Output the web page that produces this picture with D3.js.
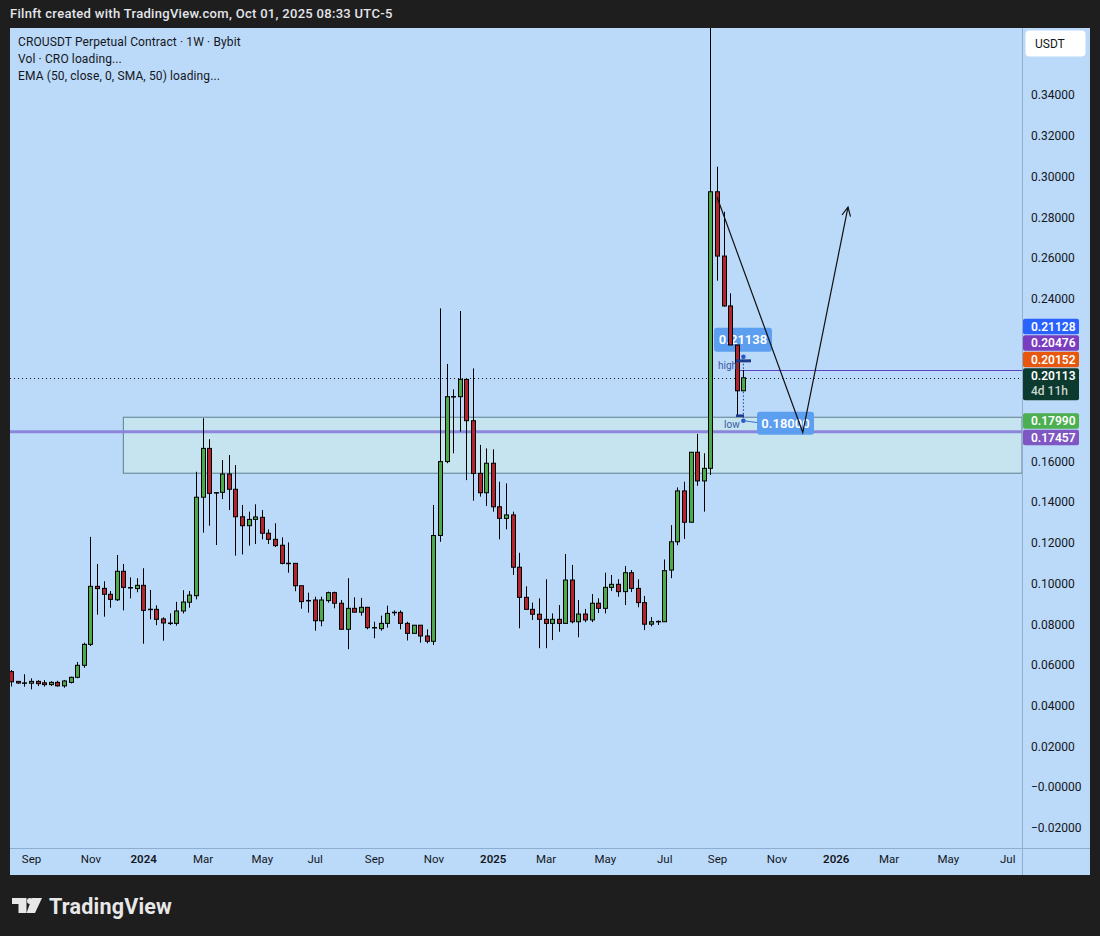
<!DOCTYPE html>
<html><head><meta charset="utf-8">
<script src="https://cdn.jsdelivr.net/npm/d3@7"></script>
<style>
html,body{margin:0;padding:0;background:#1e1e1e;}
svg{display:block;font-family:Roboto,"Open Sans",sans-serif;}
</style></head><body>
<svg id="c" width="1100" height="936"></svg>
<script>
// ---------- DATA ----------
const firstWeek = "2023-08-14"; // weekly bars, consecutive Mondays
const opens  = [.0567,.0519,.0511,.0510,.0519,.0512,.0503,.0514,.0497,.0514,.0539,.0598,.0701,.0986,.0976,.0947,.0920,.1060,.0980,.0975,.0991,.0873,.0873,.0826,.0805,.0804,.0865,.0908,.0940,.1424,.1664,.1443,.1448,.1538,.1463,.1328,.1284,.1315,.1325,.1247,.1217,.1188,.1099,.1099,.0989,.0916,.0919,.0817,.0916,.0955,.0903,.0775,.0878,.0859,.0883,.0783,.0778,.0804,.0858,.0858,.0804,.0755,.0795,.0742,.0716,.1236,.1599,.1918,.1918,.2003,.1800,.1541,.1446,.1591,.1377,.1320,.1337,.1080,.0932,.0873,.0849,.0824,.0804,.0824,.0804,.1017,.0812,.0850,.0821,.0903,.0878,.0981,.0996,.0960,.1053,.0976,.0906,.0800,.0812,.0812,.1066,.1205,.1455,.1301,.1645,.1504,.1566,.2925,.2609,.2364,.2172,.1947];
const highs  = [.0575,.0521,.0554,.0534,.0525,.0525,.0520,.0522,.0526,.0542,.0614,.0709,.1229,.1096,.1011,.0963,.1140,.1096,.1030,.1026,.1075,.0968,.0893,.0834,.0853,.0910,.0967,.0963,.1549,.1812,.1709,.1448,.1607,.1631,.1582,.1386,.1353,.1389,.1361,.1266,.1296,.1227,.1202,.1099,.0989,.0955,.0935,.0935,.0960,.0960,.0919,.1026,.0932,.0929,.0883,.0812,.0842,.0891,.0868,.0868,.0812,.0795,.0795,.0775,.1386,.2352,.2079,.1954,.2339,.2003,.2057,.1681,.1664,.1659,.1500,.1492,.1353,.1151,.0986,.0906,.0927,.1021,.0853,.0894,.1145,.1091,.0919,.0875,.0948,.0927,.1053,.1042,.1021,.1086,.1066,.1021,.0939,.0835,.0819,.1118,.1287,.1472,.1500,.1645,.1735,.1640,.3800,.3048,.2827,.2426,.2172,.2049];
const lows   = [.0494,.0507,.0493,.0480,.0496,.0493,.0497,.0493,.0488,.0509,.0534,.0586,.0693,.0847,.0837,.0881,.0914,.0868,.0927,.0957,.0704,.0824,.0795,.0719,.0796,.0793,.0853,.0881,.0922,.1250,.1284,.1189,.1415,.1361,.1137,.1143,.1186,.1194,.1217,.1194,.1179,.1094,.1053,.0962,.0876,.0857,.0768,.0790,.0906,.0878,.0775,.0677,.0859,.0842,.0775,.0731,.0768,.0783,.0842,.0775,.0720,.0755,.0709,.0706,.0698,.1205,.1591,.1640,.1746,.1508,.1407,.1427,.1381,.1353,.1217,.1266,.1042,.0780,.0873,.0821,.0682,.0682,.0722,.0763,.0804,.0804,.0736,.0810,.0810,.0855,.0853,.0963,.0935,.0894,.0958,.0883,.0771,.0789,.0796,.0812,.1026,.1188,.1219,.1301,.1480,.1353,.1533,.2488,.2360,.2172,.1818,.1945];
const closes = [.0517,.0511,.0510,.0519,.0508,.0503,.0514,.0497,.0521,.0539,.0598,.0701,.0986,.0975,.0947,.0922,.1060,.0981,.0978,.0991,.0868,.0872,.0824,.0806,.0804,.0865,.0909,.0943,.1424,.1664,.1443,.1448,.1538,.1463,.1328,.1284,.1315,.1327,.1247,.1217,.1186,.1099,.1098,.0989,.0911,.0915,.0817,.0919,.0955,.0903,.0775,.0878,.0859,.0883,.0783,.0782,.0804,.0853,.0857,.0804,.0755,.0795,.0742,.0716,.1236,.1599,.1918,.1917,.2003,.1800,.1541,.1446,.1591,.1377,.1320,.1337,.1080,.0932,.0873,.0849,.0824,.0804,.0824,.0804,.1017,.0812,.0850,.0821,.0903,.0878,.0981,.0996,.0960,.1053,.0976,.0906,.0800,.0812,.0813,.1063,.1205,.1455,.1301,.1645,.1504,.1566,.2925,.2609,.2364,.2172,.1947,.2011];

const priceTicks = [0.34,0.32,0.30,0.28,0.26,0.24,0.16,0.14,0.12,0.10,0.08,0.06,0.04,0.02,0,-0.02];
const priceTickLabels = ["0.34000","0.32000","0.30000","0.28000","0.26000","0.24000","0.16000","0.14000","0.12000","0.10000","0.08000","0.06000","0.04000","0.02000","\u22120.00000","\u22120.02000"];
const timeTicks = ["2023-09-04","2023-11-06","2024-01-01","2024-03-04","2024-05-06","2024-07-01","2024-09-02","2024-11-04","2025-01-06","2025-03-03","2025-05-05","2025-07-07","2025-09-01","2025-11-03","2026-01-05","2026-03-02","2026-05-04","2026-07-06"];
const timeTickLabels = ["Sep","Nov","2024","Mar","May","Jul","Sep","Nov","2025","Mar","May","Jul","Sep","Nov","2026","Mar","May","Jul"];

const zoneStart = "2023-12-11", zoneTop = 0.1817, zoneBottom = 0.1542;
const supportLevel = 0.17457;
const currentPrice = 0.20113;
const barHighLevel = 0.20476, barHighStart = "2025-09-21";
const rangeDate = "2025-09-29", rangeHigh = 0.21138, rangeLow = 0.18000;
const rangeHighText = "0.21138", rangeLowText = "0.18000";
const zigzagDates = ["2025-09-01","2025-12-01","2026-01-18"];
const zigzagPrices = [0.2899, 0.1742, 0.2850];

const axisLabelPrices = [0.21128, 0.20476, 0.20152, 0.20113, 0.17990, 0.17457];
const axisLabelTexts = ["0.21128","0.20476","0.20152","0.20113","0.17990","0.17457"];
const countdownText = "4d 11h";
const titleText = "Filnft created with TradingView.com, Oct 01, 2025 08:33 UTC-5";
const legendLines = ["CROUSDT Perpetual Contract \u00b7 1W \u00b7 Bybit","Vol \u00b7 CRO loading...","EMA (50, close, 0, SMA, 50) loading..."];

// ---------- LAYOUT / STYLE ----------
const axisLabelColors = ["#2962ff","#7a3dbf","#e8580c","#0d3a2f","#4caf50","#7e57c2"];
const BG = "#bbd9f8", UP = "#4ca94c", DOWN = "#b2252f";
const plot = {x0:10, x1:1022, y0:28, y1:848};
const svg = d3.select("#c");
const P = d3.utcParse("%Y-%m-%d");

const x = d3.scaleUtc().domain([P("2023-09-04"), P("2025-09-29")]).range([31, 743.4]);
const y = d3.scaleLinear().domain([0, 0.34]).range([787, 95.1]);

const start = P(firstWeek);
const bars = opens.map((o,i)=>({d:d3.utcMonday.offset(start,i), o, h:highs[i], l:lows[i], c:closes[i]}));

// frame
svg.append("rect").attr("width",1100).attr("height",936).attr("fill","#1e1e1e");
svg.append("text").attr("x",10).attr("y",18).attr("fill","#e3e5ea").attr("font-size",13).attr("font-weight",500).attr("letter-spacing","0.3").text(titleText);
svg.append("rect").attr("x",10).attr("y",28).attr("width",1080).attr("height",847).attr("fill",BG);

svg.append("defs").append("clipPath").attr("id","pc").append("rect")
  .attr("x",plot.x0).attr("y",plot.y0).attr("width",plot.x1-plot.x0).attr("height",plot.y1-plot.y0);
const g = svg.append("g").attr("clip-path","url(#pc)");

// zone
g.append("rect").attr("x",x(P(zoneStart))).attr("y",y(zoneTop))
  .attr("width",plot.x1 - x(P(zoneStart))).attr("height",y(zoneBottom)-y(zoneTop))
  .attr("fill","#c6e4ef").attr("stroke","#5d8090").attr("stroke-width",1);
// support line
g.append("line").attr("x1",plot.x0).attr("x2",plot.x1).attr("y1",y(supportLevel)).attr("y2",y(supportLevel))
  .attr("stroke","#8b86dc").attr("stroke-width",3);
// current price dotted
g.append("line").attr("x1",plot.x0).attr("x2",plot.x1).attr("y1",Math.round(y(currentPrice))+0.5).attr("y2",Math.round(y(currentPrice))+0.5)
  .attr("stroke","#1a1a1a").attr("stroke-width",1).attr("stroke-dasharray","1,3");
// bar high thin purple
g.append("line").attr("x1",x(P(barHighStart))).attr("x2",plot.x1).attr("y1",Math.round(y(barHighLevel))+0.5).attr("y2",Math.round(y(barHighLevel))+0.5)
  .attr("stroke","#5a44c0").attr("stroke-width",1);

// range tool labels (behind candles)
const rx = x(P(rangeDate));
const yH = y(rangeHigh), yL = y(rangeLow);
g.append("line").attr("x1",rx).attr("x2",rx).attr("y1",yH).attr("y2",yL)
  .attr("stroke","#1f3f9a").attr("stroke-dasharray","1.5,2");
g.append("rect").attr("x",714).attr("y",yH-29).attr("width",58).attr("height",24).attr("rx",3).attr("fill","#5c9ef0");
g.append("text").attr("x",743).attr("y",yH-12.5).attr("text-anchor","middle").attr("fill","#fff").attr("font-size",13).attr("font-weight",600).text(rangeHighText);

// candles
const cg = g.append("g");
bars.forEach(b=>{
  const cx = Math.round(x(b.d))+0.5;
  cg.append("line").attr("x1",cx).attr("x2",cx).attr("y1",y(b.h)).attr("y2",y(b.l)).attr("stroke","#000").attr("stroke-width",1);
  const top = y(Math.max(b.o,b.c)), bot = y(Math.min(b.o,b.c));
  if (bot-top < 1.5) {
    cg.append("line").attr("x1",cx-2.5).attr("x2",cx+2.5).attr("y1",(top+bot)/2).attr("y2",(top+bot)/2).attr("stroke","#000").attr("stroke-width",1.5);
  } else {
    cg.append("rect").attr("x",cx-2).attr("y",top).attr("width",4).attr("height",bot-top)
      .attr("fill", b.c>=b.o ? UP : DOWN).attr("stroke","#000").attr("stroke-width",1);
  }
});

// range markers
g.append("line").attr("x1",736).attr("x2",751).attr("y1",yH+4).attr("y2",yH+4).attr("stroke","#1e3a8a").attr("stroke-width",3);
g.append("circle").attr("cx",rx).attr("cy",yH).attr("r",2.3).attr("fill","#2c57cc");
g.append("line").attr("x1",736).attr("x2",744).attr("y1",yL-5).attr("y2",yL-5).attr("stroke","#1e3a8a").attr("stroke-width",2.5);
g.append("circle").attr("cx",rx).attr("cy",yL).attr("r",2.3).attr("fill","#2c57cc");
g.append("line").attr("x1",rx).attr("x2",758).attr("y1",yL).attr("y2",yL+2).attr("stroke","#3d6fd6").attr("stroke-width",1);
g.append("text").attr("x",718).attr("y",yH+12).attr("fill","#3b5aa6").attr("font-size",10).text("high");
g.append("text").attr("x",724).attr("y",yL+7).attr("fill","#3b5aa6").attr("font-size",10).text("low");
g.append("rect").attr("x",757).attr("y",yL-9).attr("width",57).attr("height",23).attr("rx",3).attr("fill","#5c9ef0");
g.append("text").attr("x",785.5).attr("y",yL+7).attr("text-anchor","middle").attr("fill","#fff").attr("font-size",13).attr("font-weight",600).text(rangeLowText);

// zigzag with arrow
const zz = zigzagDates.map((d,i)=>[x(P(d)), y(zigzagPrices[i])]);
g.append("path").attr("d",d3.line()(zz)).attr("fill","none").attr("stroke","#111").attr("stroke-width",1.2);
{
  const [ax,ay] = zz[2], [bx,by] = zz[1];
  const ang = Math.atan2(ay-by, ax-bx), L = 10, s = 0.45;
  const p1 = [ax - L*Math.cos(ang - s), ay - L*Math.sin(ang - s)];
  const p2 = [ax - L*Math.cos(ang + s), ay - L*Math.sin(ang + s)];
  g.append("path").attr("d",d3.line()([p1,[ax,ay],p2])).attr("fill","none").attr("stroke","#111").attr("stroke-width",1.2);
}

// legend
legendLines.forEach((t,i)=>svg.append("text").attr("x",18).attr("y",46+i*17).attr("fill","#131722").attr("font-size",12).attr("letter-spacing","0.12").text(t));

// separators
svg.append("line").attr("x1",1022.5).attr("x2",1022.5).attr("y1",28).attr("y2",875).attr("stroke","#8fadcf");
svg.append("line").attr("x1",10).attr("x2",1090).attr("y1",848.5).attr("y2",848.5).attr("stroke","#8fadcf");

// price axis
const ya = svg.append("g").attr("transform","translate(1031,0)")
  .call(d3.axisRight(y).tickValues(priceTicks).tickFormat((d,i)=>priceTickLabels[i]).tickSize(0).tickPadding(0));
ya.select(".domain").remove();
ya.selectAll("text").attr("fill","#131722").attr("font-size",12).attr("font-family","Roboto,sans-serif");

// time axis
const xa = svg.append("g").attr("transform","translate(0,855)")
  .call(d3.axisBottom(x).tickValues(timeTicks.map(P)).tickFormat((d,i)=>timeTickLabels[i]).tickSize(0).tickPadding(0));
xa.select(".domain").remove();
xa.selectAll("text").attr("fill","#131722").attr("font-size",11.5).attr("font-family","Roboto,sans-serif")
  .attr("font-weight",(d,i)=>/^\d{4}$/.test(timeTickLabels[i])?600:400);

// USDT box
svg.append("rect").attr("x",1025.5).attr("y",30.5).attr("width",60).attr("height",26).attr("rx",4).attr("fill","#fff");
svg.append("text").attr("x",1035).attr("y",48).attr("fill","#131722").attr("font-size",12).text("USDT");

// axis price labels with stacking
const CUR = 3, H = 15.5, CH = 32, GAP = 1;
const tops = axisLabelPrices.map(p=>y(p)-7.75);
tops[CUR] = y(axisLabelPrices[CUR]) - 9.5;
for (let i=CUR-1;i>=0;i--) tops[i] = Math.min(tops[i], tops[i+1]-GAP-H);
let prevBottom = tops[CUR]+CH;
for (let i=CUR+1;i<axisLabelPrices.length;i++){ tops[i] = Math.max(tops[i], prevBottom+GAP); prevBottom = tops[i]+H; }
axisLabelPrices.forEach((p,i)=>{
  const h = i===CUR?CH:H;
  svg.append("rect").attr("x",1023).attr("y",tops[i]).attr("width",56).attr("height",h).attr("rx",2).attr("fill",axisLabelColors[i]);
  svg.append("text").attr("x",1031).attr("y",tops[i]+12).attr("fill","#fff").attr("font-size",12).attr("font-weight",600).text(axisLabelTexts[i]);
  if (i===CUR) svg.append("text").attr("x",1031).attr("y",tops[i]+27).attr("fill","#c9d6d0").attr("font-size",12).attr("font-weight",500).text(countdownText);
});

// TradingView logo
const lg = svg.append("g").attr("fill","#e8e8e8");
lg.append("path").attr("d","M12 898 H26.5 V913 H18.5 V904 H12 Z");
lg.append("circle").attr("cx",30).attr("cy",901).attr("r",3);
lg.append("path").attr("d","M32 898 H42 L35 913 H26.5 Z");
svg.append("text").attr("x",49).attr("y",913.5).attr("fill","#e8e8e8").attr("font-size",21.5).attr("font-weight",700).attr("letter-spacing","0.2").text("TradingView");
</script>
</body></html>
